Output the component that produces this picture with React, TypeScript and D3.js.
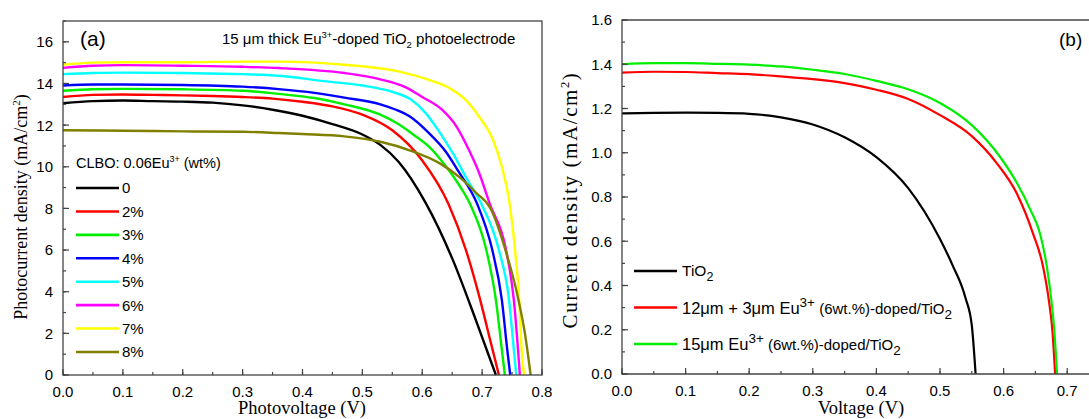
import React from "react";
import * as d3 from "d3";

// panel (a): J-V curves for CLBO:0.06Eu3+ doping levels (V, mA/cm2)
const dopingLabels = ["0", "2%", "3%", "4%", "5%", "6%", "7%", "8%"];
const dopingColors = ["#000000", "#ff0000", "#00ee00", "#0000ff", "#00ffff", "#ff00ff", "#ffff00", "#808000"];

const curve0: [number, number][] = [[0, 13.05], [0.05, 13.15], [0.1, 13.18], [0.15, 13.15], [0.2, 13.13], [0.25, 13.08], [0.3, 12.95], [0.35, 12.74], [0.4, 12.45], [0.45, 12.05], [0.5, 11.55], [0.53, 11.05], [0.56, 10.25], [0.605, 8.3], [0.65, 5.6], [0.69, 2.6], [0.723, 0]];
const curve2: [number, number][] = [[0, 13.35], [0.05, 13.45], [0.1, 13.47], [0.15, 13.45], [0.2, 13.43], [0.25, 13.4], [0.3, 13.35], [0.35, 13.27], [0.4, 13.12], [0.45, 12.9], [0.5, 12.5], [0.55, 11.75], [0.6, 10.3], [0.644, 8.2], [0.673, 6.0], [0.695, 3.8], [0.715, 1.5], [0.728, 0]];
const curve3: [number, number][] = [[0, 13.65], [0.05, 13.72], [0.1, 13.74], [0.2, 13.72], [0.3, 13.65], [0.36, 13.5], [0.42, 13.3], [0.47, 13.0], [0.53, 12.5], [0.56, 12.05], [0.585, 11.55], [0.61, 11.0], [0.64, 10.0], [0.662, 9.1], [0.68, 8.2], [0.707, 6.0], [0.723, 3.6], [0.733, 1.2], [0.738, 0]];
const curve4: [number, number][] = [[0, 13.9], [0.05, 13.95], [0.1, 13.95], [0.2, 13.93], [0.3, 13.85], [0.36, 13.73], [0.42, 13.55], [0.47, 13.32], [0.53, 13.0], [0.555, 12.75], [0.58, 12.4], [0.61, 11.65], [0.64, 10.7], [0.66, 9.8], [0.692, 8.2], [0.717, 6.0], [0.733, 3.6], [0.742, 1.2], [0.747, 0]];
const curve5: [number, number][] = [[0, 14.45], [0.05, 14.5], [0.1, 14.52], [0.2, 14.5], [0.3, 14.45], [0.36, 14.37], [0.44, 14.1], [0.5, 13.9], [0.55, 13.6], [0.58, 13.25], [0.605, 12.6], [0.628, 11.7], [0.65, 10.7], [0.675, 9.4], [0.699, 8.2], [0.728, 6.0], [0.745, 3.6], [0.753, 1.2], [0.757, 0]];
const curve6: [number, number][] = [[0, 14.75], [0.05, 14.85], [0.1, 14.88], [0.2, 14.85], [0.3, 14.8], [0.36, 14.74], [0.47, 14.5], [0.53, 14.2], [0.57, 13.85], [0.6, 13.35], [0.633, 12.74], [0.657, 11.94], [0.678, 10.8], [0.695, 9.7], [0.713, 8.2], [0.74, 6.0], [0.753, 3.6], [0.76, 1.2], [0.763, 0]];
const curve7: [number, number][] = [[0, 14.9], [0.05, 15.0], [0.1, 15.02], [0.2, 15.02], [0.3, 15.05], [0.36, 15.05], [0.47, 14.9], [0.56, 14.58], [0.61, 14.18], [0.645, 13.78], [0.673, 13.2], [0.695, 12.4], [0.718, 11.3], [0.733, 10.0], [0.745, 8.4], [0.755, 6.0], [0.762, 3.6], [0.766, 1.2], [0.77, 0]];
const curve8: [number, number][] = [[0, 11.75], [0.1, 11.73], [0.2, 11.7], [0.3, 11.68], [0.36, 11.62], [0.4, 11.57], [0.47, 11.46], [0.53, 11.2], [0.58, 10.78], [0.63, 10.15], [0.66, 9.55], [0.69, 8.75], [0.714, 8.0], [0.74, 5.9], [0.76, 3.7], [0.772, 1.9], [0.781, 0]];
const dopingCurves = [curve0, curve2, curve3, curve4, curve5, curve6, curve7, curve8];

// panel (b): TiO2 vs Eu3+ doped layers
const tio2Curve: [number, number][] = [[0, 1.178], [0.05, 1.18], [0.1, 1.181], [0.15, 1.18], [0.2, 1.176], [0.25, 1.16], [0.3, 1.128], [0.35, 1.07], [0.4, 0.98], [0.45, 0.84], [0.5, 0.61], [0.52, 0.49], [0.54, 0.345], [0.55, 0.22], [0.556, 0]];
const bilayerCurve: [number, number][] = [[0, 1.362], [0.05, 1.366], [0.1, 1.365], [0.15, 1.36], [0.2, 1.355], [0.25, 1.345], [0.3, 1.333], [0.35, 1.315], [0.4, 1.285], [0.45, 1.243], [0.5, 1.17], [0.55, 1.075], [0.59, 0.95], [0.62, 0.82], [0.646, 0.637], [0.662, 0.486], [0.671, 0.336], [0.677, 0.187], [0.681, 0]];
const singleCurve: [number, number][] = [[0, 1.4], [0.05, 1.405], [0.1, 1.405], [0.15, 1.402], [0.2, 1.398], [0.25, 1.39], [0.3, 1.375], [0.35, 1.356], [0.4, 1.325], [0.45, 1.287], [0.5, 1.225], [0.55, 1.125], [0.594, 0.983], [0.621, 0.863], [0.642, 0.743], [0.657, 0.637], [0.668, 0.486], [0.675, 0.336], [0.68, 0.187], [0.684, 0]];
const layerCurves = [tio2Curve, bilayerCurve, singleCurve];
const layerColors = ["#000000", "#ff0000", "#00ee00"];

const SANS = "'Liberation Sans', Arial, sans-serif";
const SERIF = "'Liberation Serif', 'Times New Roman', serif";
const AXIS = "#444";

const xA = d3.scaleLinear().domain([0, 0.8]).range([63, 542]);
const yA = d3.scaleLinear().domain([0, 17]).range([375, 21]);
const xB = d3.scaleLinear().domain([0, 0.75]).range([622, 1099]);
const yB = d3.scaleLinear().domain([0, 1.6]).range([374, 20]);

const fmt1 = d3.format(".1f");

function lineFor(x, y) {
  return d3
    .line<[number, number]>()
    .x((d) => x(d[0]))
    .y((d) => y(d[1]))
    .curve(d3.curveMonotoneX);
}

// inward ticks on bottom and left axes
function Ticks({ x, y, xMajor, xMinor, yMajor, yMinor, xFmt, yFmt, yLabelX }) {
  const y0 = y.range()[0];
  const x0 = x.range()[0];
  return (
    <g>
      {xMinor.map((t) => (
        <line key={"xm" + t} x1={x(t)} x2={x(t)} y1={y0} y2={y0 - 3} stroke={AXIS} strokeWidth={1.2} />
      ))}
      {xMajor.map((t) => (
        <g key={"xM" + t}>
          <line x1={x(t)} x2={x(t)} y1={y0} y2={y0 - 6} stroke={AXIS} strokeWidth={1.2} />
          <text x={x(t)} y={y0 + 22} textAnchor="middle" fontFamily={SANS} fontSize={15}>
            {xFmt(t)}
          </text>
        </g>
      ))}
      {yMinor.map((t) => (
        <line key={"ym" + t} x1={x0} x2={x0 + 3} y1={y(t)} y2={y(t)} stroke={AXIS} strokeWidth={1.2} />
      ))}
      {yMajor.map((t) => (
        <g key={"yM" + t}>
          <line x1={x0} x2={x0 + 6} y1={y(t)} y2={y(t)} stroke={AXIS} strokeWidth={1.2} />
          <text x={yLabelX} y={y(t)} dy="0.36em" textAnchor="end" fontFamily={SANS} fontSize={15}>
            {yFmt(t)}
          </text>
        </g>
      ))}
    </g>
  );
}

export default function App() {
  const lineA = lineFor(xA, yA);
  const lineB = lineFor(xB, yB);
  const legendY = d3.scaleLinear().domain([0, 7]).range([188, 352]);
  const legendYB = d3.scaleLinear().domain([0, 2]).range([271, 344]);

  return (
    <svg width={1089} height={419} style={{ position: "absolute", left: 0, top: 0, background: "#fff" }}>
      {/* ---------- panel (a) ---------- */}
      <g fill="none" strokeWidth={2.4}>
        {dopingCurves.map((c, i) => (
          <path key={i} d={lineA(c)} stroke={dopingColors[i]} />
        ))}
      </g>
      <rect x={63} y={21} width={542 - 63} height={375 - 21} fill="none" stroke={AXIS} strokeWidth={1.3} />
      <Ticks
        x={xA}
        y={yA}
        xMajor={xA.ticks(8)}
        xMinor={xA.ticks(16)}
        yMajor={yA.ticks(8)}
        yMinor={yA.ticks(17)}
        xFmt={fmt1}
        yFmt={d3.format("d")}
        yLabelX={53}
      />
      <text x={80} y={46} fontFamily={SANS} fontSize={21}>(a)</text>
      <text x={222} y={44} fontFamily={SANS} fontSize={15}>
        15 μm thick Eu<tspan dy={-6} fontSize={9.5}>3+</tspan>
        <tspan dy={6}>-doped TiO</tspan>
        <tspan dy={4} fontSize={9.5}>2</tspan>
        <tspan dy={-4}> photoelectrode</tspan>
      </text>
      <text x={76} y={168} fontFamily={SANS} fontSize={14.5}>
        CLBO: 0.06Eu<tspan dy={-6} fontSize={9}>3+</tspan>
        <tspan dy={6}> (wt%)</tspan>
      </text>
      {dopingLabels.map((lab, i) => (
        <g key={lab}>
          <line x1={76} x2={119} y1={legendY(i)} y2={legendY(i)} stroke={dopingColors[i]} strokeWidth={2.6} />
          <text x={122} y={legendY(i)} dy="0.36em" fontFamily={SANS} fontSize={15}>
            {lab}
          </text>
        </g>
      ))}
      <text x={302} y={414} textAnchor="middle" fontFamily={SERIF} fontSize={18.5}>
        Photovoltage (V)
      </text>
      <text transform="translate(27,207) rotate(-90)" textAnchor="middle" fontFamily={SERIF} fontSize={18}>
        Photocurrent density (mA/cm<tspan dy={-7} fontSize={11}>2</tspan>
        <tspan dy={7}>)</tspan>
      </text>

      {/* ---------- panel (b) ---------- */}
      <g fill="none" strokeWidth={2.2}>
        {layerCurves.map((c, i) => (
          <path key={i} d={lineB(c)} stroke={layerColors[i]} />
        ))}
      </g>
      <path d={`M1089,20H622V374H1089`} fill="none" stroke={AXIS} strokeWidth={1.3} />
      <Ticks
        x={xB}
        y={yB}
        xMajor={xB.ticks(7)}
        xMinor={xB.ticks(15)}
        yMajor={yB.ticks(8)}
        yMinor={yB.ticks(16)}
        xFmt={fmt1}
        yFmt={fmt1}
        yLabelX={612}
      />
      <text x={1059} y={46} fontFamily={SANS} fontSize={19}>(b)</text>
      {layerColors.map((c, i) => (
        <line key={c} x1={634} x2={677} y1={legendYB(i)} y2={legendYB(i)} stroke={c} strokeWidth={2.6} />
      ))}
      <text x={682} y={legendYB(0) + 5} fontFamily={SANS} fontSize={15.5}>
        TiO<tspan dy={5} fontSize={12.5}>2</tspan>
      </text>
      <text x={682} y={legendYB(1) + 6} fontFamily={SANS} fontSize={16.5}>
        12μm + 3μm Eu<tspan dy={-7} fontSize={13.5}>3+</tspan>
        <tspan dy={7} fontSize={15}> (6wt.%)-doped/TiO</tspan>
        <tspan dy={5} fontSize={13.5}>2</tspan>
      </text>
      <text x={682} y={legendYB(2) + 6} fontFamily={SANS} fontSize={16.5}>
        15μm Eu<tspan dy={-7} fontSize={13.5}>3+</tspan>
        <tspan dy={7} fontSize={15}> (6wt.%)-doped/TiO</tspan>
        <tspan dy={5} fontSize={13.5}>2</tspan>
      </text>
      <text x={861} y={414} textAnchor="middle" fontFamily={SERIF} fontSize={18.5}>
        Voltage (V)
      </text>
      <text transform="translate(577,200) rotate(-90)" textAnchor="middle" fontFamily={SERIF} fontSize={21} letterSpacing={1.6}>
        Current density (mA/cm<tspan dy={-8} fontSize={12.5}>2</tspan>
        <tspan dy={8}>)</tspan>
      </text>
    </svg>
  );
}
